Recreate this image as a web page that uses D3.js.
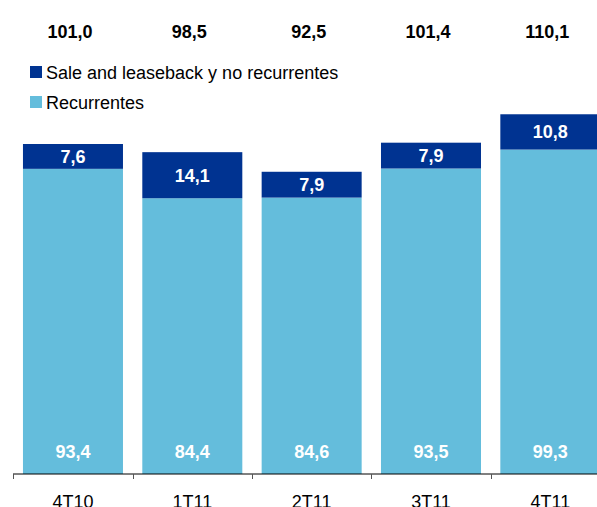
<!DOCTYPE html>
<html>
<head>
<meta charset="utf-8">
<script src="https://cdn.jsdelivr.net/npm/d3@7"></script>
<style>
  body { margin: 0; background: #fff; }
  svg { display: block; font-family: "Liberation Sans", Arial, sans-serif; }
</style>
</head>
<body>
<script>
// chart data
var categories = ["4T10", "1T11", "2T11", "3T11", "4T11"];
var recurrentes = [93.4, 84.4, 84.6, 93.5, 99.3];
var noRecurrentes = [7.6, 14.1, 7.9, 7.9, 10.8];
var totals = ["101,0", "98,5", "92,5", "101,4", "110,1"];
var seriesNames = ["Sale and leaseback y no recurrentes", "Recurrentes"];

var width = 597, height = 507;
var darkBlue = "#003391", lightBlue = "#64bddc";

var fmt = function(v) { return v.toFixed(1).replace(".", ","); };

var svg = d3.select("body").append("svg")
    .attr("width", width)
    .attr("height", height);

// x positions: bands of ~119px, bar width ~100
var x = d3.scaleBand()
    .domain(categories)
    .range([13.3, 610])
    .paddingInner(0.162)
    .paddingOuter(0.081);

var y = d3.scaleLinear()
    .domain([0, 101])
    .range([474, 144]);

var rows = categories.map(function(c, i) {
  return {cat: c, rec: recurrentes[i], nr: noRecurrentes[i], total: totals[i]};
});

// recurrentes (bottom)
svg.selectAll("rect.rec")
  .data(rows).enter().append("rect")
    .attr("class", "rec")
    .attr("x", function(d) { return x(d.cat); })
    .attr("width", x.bandwidth())
    .attr("y", function(d) { return y(d.rec); })
    .attr("height", function(d) { return y(0) - y(d.rec); })
    .attr("fill", lightBlue);

// sale and leaseback (top)
svg.selectAll("rect.nr")
  .data(rows).enter().append("rect")
    .attr("class", "nr")
    .attr("x", function(d) { return x(d.cat); })
    .attr("width", x.bandwidth())
    .attr("y", function(d) { return y(d.rec + d.nr); })
    .attr("height", function(d) { return y(d.rec) - y(d.rec + d.nr); })
    .attr("fill", darkBlue);

// value labels in segments
svg.selectAll("text.nrlab")
  .data(rows).enter().append("text")
    .attr("x", function(d) { return x(d.cat) + x.bandwidth() / 2; })
    .attr("y", function(d) { return (y(d.rec) + y(d.rec + d.nr)) / 2 + 6.5; })
    .attr("text-anchor", "middle")
    .attr("fill", "#fff")
    .style("font-size", "18px")
    .style("font-weight", "bold")
    .text(function(d) { return fmt(d.nr); });

svg.selectAll("text.reclab")
  .data(rows).enter().append("text")
    .attr("x", function(d) { return x(d.cat) + x.bandwidth() / 2; })
    .attr("y", y(0) - 16)
    .attr("text-anchor", "middle")
    .attr("fill", "#fff")
    .style("font-size", "18px")
    .style("font-weight", "bold")
    .text(function(d) { return fmt(d.rec); });

// totals on top
svg.selectAll("text.total")
  .data(rows).enter().append("text")
    .attr("x", function(d) { return x(d.cat) + x.bandwidth() / 2 - 3; })
    .attr("y", 38)
    .attr("text-anchor", "middle")
    .attr("fill", "#000")
    .style("font-size", "18px")
    .style("font-weight", "bold")
    .text(function(d) { return d.total; });

// axis line and ticks at band boundaries
var half = x.step() * x.paddingInner() / 2;
svg.append("line")
    .attr("x1", 13).attr("x2", width)
    .attr("y1", y(0)).attr("y2", y(0))
    .attr("stroke", "#000").attr("stroke-width", 1);

svg.selectAll("line.tick")
  .data(categories).enter().append("line")
    .attr("class", "tick")
    .attr("x1", function(d) { return Math.round(x(d) - half) + 0.5; })
    .attr("x2", function(d) { return Math.round(x(d) - half) + 0.5; })
    .attr("y1", y(0)).attr("y2", y(0) + 5)
    .attr("stroke", "#555");

svg.selectAll("text.cat")
  .data(categories).enter().append("text")
    .attr("x", function(d) { return x(d) + x.bandwidth() / 2; })
    .attr("y", 508)
    .attr("text-anchor", "middle")
    .attr("fill", "#000")
    .style("font-size", "18px")
    .text(function(d) { return d; });

// legend
var legend = svg.selectAll("g.legend")
  .data(seriesNames).enter().append("g")
    .attr("transform", function(d, i) { return "translate(30," + (66 + i * 30) + ")"; });

legend.append("rect")
    .attr("width", 12).attr("height", 12)
    .attr("fill", function(d, i) { return i === 0 ? darkBlue : lightBlue; });

legend.append("text")
    .attr("x", 16).attr("y", 12.5)
    .attr("fill", "#000")
    .style("font-size", "18px")
    .text(function(d) { return d; });
</script>
</body>
</html>
